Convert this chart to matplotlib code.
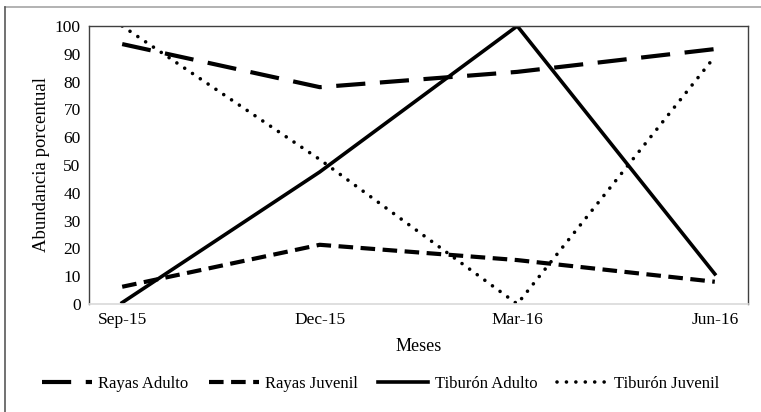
import matplotlib.pyplot as plt
from matplotlib.lines import Line2D

months = ["Sep-15", "Dec-15", "Mar-16", "Jun-16"]
rayas_adulto = [93.5, 78.0, 83.5, 91.7]
rayas_juvenil = [6.2, 21.3, 15.8, 8.0]
tiburon_adulto = [0.5, 47.5, 100.0, 10.8]
tiburon_juvenil = [100.0, 52.0, 0.0, 89.0]

plt.rcParams["font.family"] = ["Liberation Serif", "DejaVu Serif"]

W, H = 761, 412
fig = plt.figure(figsize=(W / 100, H / 100), dpi=100)
ax = fig.add_axes([89 / W, 1 - 304 / H, (748 - 89) / W, (304 - 26) / H])

x = list(range(len(months)))
ax.plot(x, rayas_adulto, color="black", lw=3, dashes=(7, 3.5), solid_capstyle="butt",
        label="Rayas Adulto")
ax.plot(x, rayas_juvenil, color="black", lw=3, dashes=(3.5, 1.8),
        label="Rayas Juvenil")
ax.plot(x, tiburon_adulto, color="black", lw=2.6, label="Tiburón Adulto")
ax.plot(x, tiburon_juvenil, color="black", lw=2.6, dashes=(0.01, 2.6),
        dash_capstyle="round", label="Tiburón Juvenil")

ax.set_xlim(-0.168, 3.168)
ax.set_ylim(0, 100)
ax.set_yticks(range(0, 101, 10))
ax.set_xticks(x)
ax.set_xticklabels(months)
ax.tick_params(length=0, labelsize=12.5, colors="black", pad=6)
for s in ["left", "top", "right"]:
    ax.spines[s].set_color("#404040")
    ax.spines[s].set_linewidth(1.0)
ax.spines["bottom"].set_color("#d9d9d9")
ax.spines["bottom"].set_linewidth(1.2)

ax.set_xlabel("Meses", fontsize=13, labelpad=7)
ax.set_ylabel("Abundancia porcentual", fontsize=13.5, labelpad=3)

fig.legend(loc="center", bbox_to_anchor=(0.5, 1 - 384 / H), ncol=4, frameon=False,
           fontsize=12, handlelength=3.0, columnspacing=1.2, handletextpad=0.4)

# outer chart border (top and left only visible)
fig.add_artist(Line2D([5 / W, 1], [1 - 7 / H, 1 - 7 / H], color="#a6a6a6", lw=1.2))
fig.add_artist(Line2D([5 / W, 5 / W], [0, 1 - 7 / H], color="#595959", lw=1.2))

fig.savefig("out.png", dpi=100)
